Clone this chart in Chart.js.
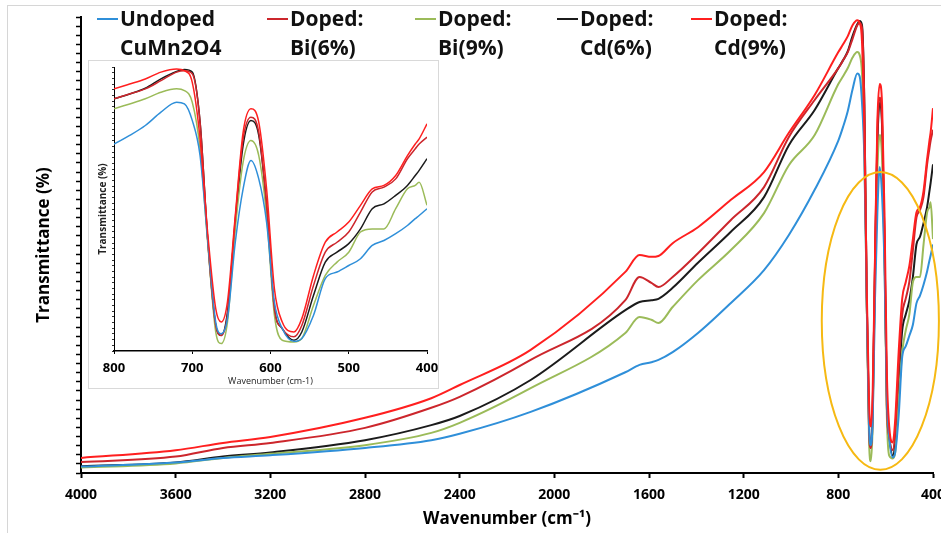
<!DOCTYPE html>
<html>
<head>
<meta charset="utf-8">
<script src="https://cdn.jsdelivr.net/npm/chart.js@4.4.1/dist/chart.umd.min.js"></script>
<style>
  body { margin: 0; background: #fff; }
  #wrap { position: relative; width: 941px; height: 533px; overflow: hidden; font-family: 'Open Sans', sans-serif; }
  #frame { position: absolute; left: 7px; top: 5px; width: 960px; height: 560px; border: 1px solid #d6d6d6; }
  #main { position: absolute; left: 0; top: 0; }
  .item { position: absolute; top: 4px; font-weight: bold; font-size: 21px; line-height: 29px; color: #111; white-space: nowrap; }
  .item .swatch { position: absolute; left: -23px; top: 14px; width: 21px; height: 2px; }
  #insetBox { position: absolute; left: 88px; top: 60px; width: 349px; height: 327px; border: 1px solid #d9d9d9; background: #fff; }
  #inset { position: absolute; left: 0; top: 0; }
</style>
</head>
<body>
<div id="wrap">
  <div id="frame"></div>
  <canvas id="main" width="941" height="533"></canvas>
  <div id="legend"></div>
  <div id="insetBox"><canvas id="inset" width="349" height="327"></canvas></div>
</div>
<script>
// wavenumbers (cm-1)
const wavenumbers = [4000, 3600, 3400, 3200, 2800, 2520, 2400, 2100, 1700, 1640, 1590, 1560, 1500, 1393, 1254, 1114, 1009, 900,
  800, 780, 760, 740, 720, 710, 700, 690, 680, 670, 663, 655, 645, 635, 625, 615, 605, 595, 585, 570, 560, 545,
  530, 515, 500, 485, 470, 455, 440, 425, 415, 410, 400];

// transmittance, as % of the axis height
const undoped = [1.4, 2.3, 3.3, 3.9, 5.5, 7.2, 8.6, 13.4, 22.1, 23.7, 24.3, 24.8, 26.5, 30.7, 37.3, 44.5, 52.2, 62.1,
  72.9, 75.9, 79.4, 84.1, 87.6, 87.0, 81.2, 68.8, 38.3, 10.2, 6.1, 11.4, 38.3, 57.1, 67.1, 60.6, 45.4, 17.2, 7.9, 3.4, 4.4, 12.6,
  25.5, 27.8, 30.1, 32.5, 37.2, 38.9, 41.3, 44.2, 46.6, 47.7, 50.1];
const bi6 = [2.4, 3.6, 5.5, 6.6, 9.9, 14.3, 16.7, 24.8, 37.9, 43.0, 41.7, 40.8, 43.0, 48.2, 55.5, 62.7, 73.7, 81.8,
  88.8, 90.5, 92.3, 95.2, 98.2, 98.7, 97.6, 80.6, 38.3, 9.0, 5.5, 12.6, 46.6, 74.7, 82.3, 77.0, 51.3, 14.9, 7.9, 5.0, 9.0, 23.1,
  34.8, 38.3, 41.9, 48.9, 56.0, 57.7, 60.6, 67.7, 71.2, 72.9, 75.3];
const bi9 = [1.2, 2.1, 3.3, 4.2, 6.1, 8.8, 11.0, 18.6, 30.7, 34.2, 33.6, 32.9, 36.4, 42.3, 48.9, 57.0, 67.5, 74.1,
  85.3, 87.0, 88.8, 91.1, 92.3, 91.7, 87.6, 71.2, 37.2, 6.7, 2.6, 10.2, 43.0, 66.5, 74.1, 68.8, 47.7, 12.6, 3.8, 3.2, 4.4, 16.1,
  26.6, 31.3, 34.8, 41.9, 43.0, 43.0, 50.1, 57.1, 58.3, 59.4, 51.3];
const cd6 = [1.5, 2.3, 3.6, 4.5, 7.2, 10.5, 12.5, 20.4, 35.7, 37.5, 37.9, 38.2, 40.6, 46.1, 52.9, 60.5, 71.9, 79.6,
  88.8, 90.5, 92.5, 95.8, 98.4, 99.1, 98.2, 80.6, 38.3, 9.0, 5.5, 13.7, 45.4, 72.4, 81.2, 75.9, 51.3, 14.9, 7.9, 3.8, 6.7, 19.6,
  31.3, 34.8, 37.8, 43.0, 50.1, 51.8, 54.8, 58.3, 61.8, 63.6, 67.7];
const cd9 = [3.3, 5.0, 6.6, 7.9, 12.1, 16.4, 19.3, 27.0, 44.1, 47.8, 47.4, 47.6, 50.4, 53.9, 59.9, 66.0, 74.6, 82.9,
  92.3, 94.0, 95.8, 98.2, 99.3, 98.7, 94.6, 74.7, 40.7, 14.9, 10.2, 17.3, 47.7, 77.0, 85.3, 80.6, 57.1, 21.9, 10.2, 6.7, 11.4, 26.6,
  38.3, 41.9, 45.4, 51.3, 57.1, 58.3, 61.8, 68.8, 72.9, 74.7, 80.0];

const seriesValues = [undoped, bi6, bi9, cd6, cd9];
const seriesNames = [['Undoped', 'CuMn2O4'], ['Doped:', 'Bi(6%)'], ['Doped:', 'Bi(9%)'], ['Doped:', 'Cd(6%)'], ['Doped:', 'Cd(9%)']];
const seriesColors = ['#2f8fd9', '#cc262c', '#9bbb59', '#1b1b1b', '#ff1f1f'];
const legendLeft = [120, 290, 438, 580, 714];

// highlighted region (the yellow ring), in axis units
const ringX = [870, 375];
const ringY = [0.7, 66];

// legend as html
const legendEl = document.getElementById('legend');
seriesNames.forEach((lines, i) => {
  const d = document.createElement('div');
  d.className = 'item';
  d.style.left = legendLeft[i] + 'px';
  d.innerHTML = '<span class="swatch" style="background:' + seriesColors[i] + '"></span>' + lines.join('<br>');
  legendEl.appendChild(d);
});

function makeSets(width) {
  return seriesValues.map((vals, i) => ({
    label: seriesNames[i].join(' '),
    data: wavenumbers.map((w, j) => ({ x: w, y: vals[j] })),
    borderColor: seriesColors[i],
    borderWidth: width,
    pointRadius: 0,
    fill: false,
    cubicInterpolationMode: 'monotone',
    order: i === 4 ? 0 : i + 1
  }));
}

const ringPlugin = {
  id: 'ring',
  afterDatasetsDraw(chart) {
    const { ctx, scales: { x, y } } = chart;
    const x1 = x.getPixelForValue(ringX[0]), x2 = x.getPixelForValue(ringX[1]);
    const y1 = y.getPixelForValue(ringY[1]), y2 = y.getPixelForValue(ringY[0]);
    ctx.save();
    ctx.strokeStyle = '#f6b913';
    ctx.lineWidth = 2;
    ctx.beginPath();
    ctx.ellipse((x1 + x2) / 2, (y1 + y2) / 2, (x2 - x1) / 2, (y2 - y1) / 2, 0, 0, Math.PI * 2);
    ctx.stroke();
    ctx.restore();
  }
};

const mainChart = new Chart(document.getElementById('main'), {
  type: 'line',
  data: { datasets: makeSets(2) },
  options: {
    responsive: false,
    animation: false,
    layout: { padding: { top: 17, right: 8, left: 0, bottom: 0 } },
    plugins: { legend: { display: false }, tooltip: { enabled: false } },
    scales: {
      x: {
        type: 'linear', reverse: true, min: 400, max: 4000,
        ticks: { stepSize: 400, color: '#000', font: { family: 'Open Sans', weight: 'bold', size: 14 }, padding: 9, maxRotation: 0,
                 format: { useGrouping: false } },
        grid: { drawOnChartArea: false, tickLength: 5, tickColor: '#000', tickWidth: 2 },
        border: { color: '#000', width: 2 },
        title: { display: true, text: 'Wavenumber (cm⁻¹)', color: '#000', font: { family: 'Open Sans', weight: 'bold', size: 17 }, padding: { top: 0, bottom: 4 } },
        afterFit: s => { s.height = 60; s.paddingRight = 0; s.paddingLeft = 0; }
      },
      y: {
        min: 0, max: 100,
        ticks: { stepSize: 2, display: false },
        grid: { drawOnChartArea: false, tickLength: 5, tickColor: '#000', tickWidth: 1.5 },
        border: { color: '#000', width: 2 },
        title: { display: true, text: 'Transmittance (%)', color: '#000', font: { family: 'Open Sans', weight: 'bold', size: 17 }, padding: { top: 34, bottom: 0 } },
        afterFit: s => { s.width = 81; s.paddingTop = 0; s.paddingBottom = 0; }
      }
    }
  },
  plugins: [ringPlugin]
});

const insetChart = new Chart(document.getElementById('inset'), {
  type: 'line',
  data: { datasets: makeSets(1.5) },
  options: {
    responsive: false,
    animation: false,
    layout: { padding: { top: 6, right: 11, left: 0, bottom: 0 } },
    plugins: { legend: { display: false }, tooltip: { enabled: false } },
    scales: {
      x: {
        type: 'linear', reverse: true, min: 400, max: 800,
        ticks: { stepSize: 100, color: '#000', font: { family: 'Open Sans', weight: 'bold', size: 13 }, padding: 6, maxRotation: 0 },
        grid: { drawOnChartArea: false, tickLength: 3, tickColor: '#000', tickWidth: 1 },
        border: { color: '#000', width: 1.5 },
        title: { display: true, text: 'Wavenumber (cm-1)', color: '#222', font: { family: 'Open Sans', size: 9 }, padding: { top: 0, bottom: 1 } },
        afterFit: s => { s.height = 37; s.paddingRight = 0; s.paddingLeft = 0; }
      },
      y: {
        min: 0, max: 100,
        ticks: { stepSize: 2, display: false },
        grid: { drawOnChartArea: false, tickLength: 2, tickColor: '#333', tickWidth: 1 },
        border: { color: '#000', width: 1 },
        title: { display: true, text: 'Transmittance (%)', color: '#222', font: { family: 'Open Sans', weight: 'bold', size: 10 }, padding: { top: 8, bottom: 0 } },
        afterFit: s => { s.width = 25; }
      }
    }
  }
});
</script>
</body>
</html>
